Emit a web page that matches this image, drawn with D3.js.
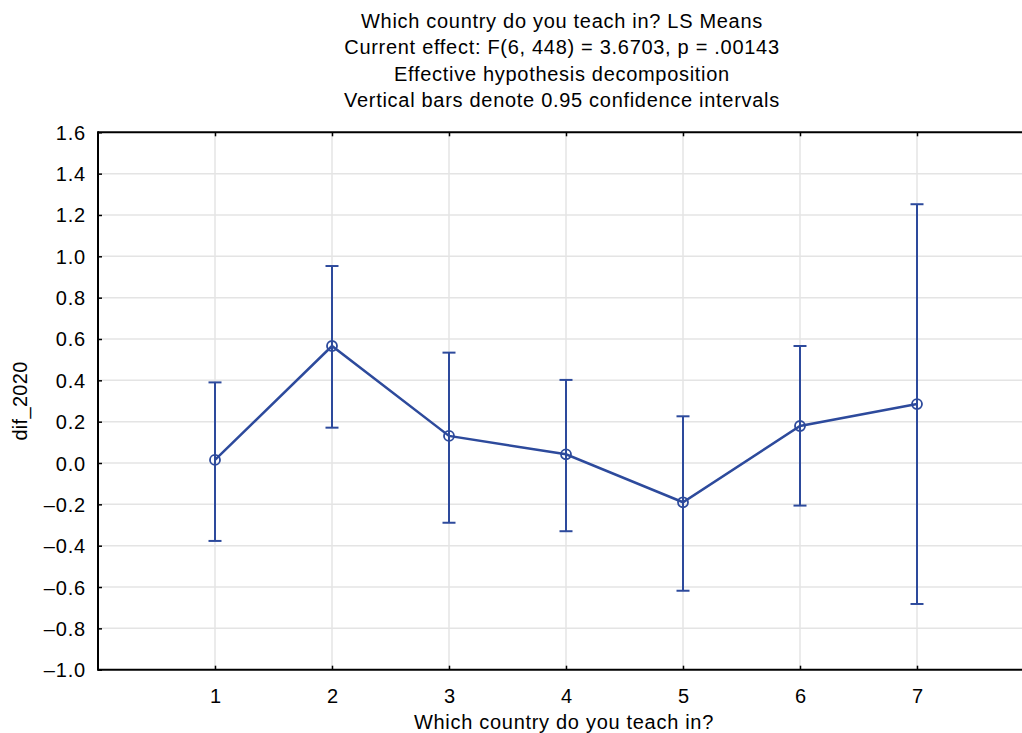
<!DOCTYPE html>
<html>
<head>
<meta charset="utf-8">
<script src="https://cdn.jsdelivr.net/npm/d3@7"></script>
<style>
  body { margin: 0; background: #fff; }
  svg { display: block; font-family: "Liberation Sans", Arial, sans-serif; }
  .tick text { font-family: "Liberation Sans", Arial, sans-serif; font-size: 20px; fill: #000; }
</style>
</head>
<body>
<div id="chart"></div>
<script>
// LS means par pays, avec IC à 95 %
const countries = [1, 2, 3, 4, 5, 6, 7];
const means = [0.015, 0.566, 0.131, 0.042, -0.190, 0.179, 0.285];
const upper = [0.390, 0.953, 0.534, 0.402, 0.226, 0.566, 1.252];
const lower = [-0.377, 0.171, -0.289, -0.330, -0.618, -0.206, -0.682];
const yTicks = [-1.0, -0.8, -0.6, -0.4, -0.2, 0.0, 0.2, 0.4, 0.6, 0.8, 1.0, 1.2, 1.4, 1.6];
const titleLines = [
  "Which country do you teach in? LS Means",
  "Current effect: F(6, 448) = 3.6703, p = .00143",
  "Effective hypothesis decomposition",
  "Vertical bars denote 0.95 confidence intervals"
];

const width = 1022, height = 733;
const plotLeft = 98, plotTop = 132.3, plotBottom = 669.7;
const blue = "#2d4a9c";

const svg = d3.select("#chart")
  .append("svg")
  .attr("width", width)
  .attr("height", height);

const x = d3.scaleLinear().domain([0, 8]).range([plotLeft, 1034]);
const y = d3.scaleLinear().domain([-1.0, 1.6]).range([plotBottom, plotTop]);

const data = countries.map((c, i) => ({ c, m: means[i], hi: upper[i], lo: lower[i] }));

// Grille
svg.append("g")
  .selectAll("line")
  .data(yTicks.slice(1, -1))
  .enter().append("line")
  .attr("x1", plotLeft).attr("x2", width)
  .attr("y1", d => y(d)).attr("y2", d => y(d))
  .attr("stroke", "#e4e4e4").attr("stroke-width", 1.5);

svg.append("g")
  .selectAll("line")
  .data(countries)
  .enter().append("line")
  .attr("x1", d => x(d)).attr("x2", d => x(d))
  .attr("y1", plotTop).attr("y2", plotBottom)
  .attr("stroke", "#e4e4e4").attr("stroke-width", 1.5);

// Axes
const yAxis = svg.append("g")
  .attr("transform", `translate(${plotLeft},0)`)
  .call(d3.axisLeft(y).tickValues(yTicks).tickSize(-4).tickPadding(12)
    .tickFormat(d => d3.format(".1f")(d).replace(/[-\u2212]/, "\u2013")));
yAxis.select(".domain").remove();
yAxis.selectAll("line").attr("stroke", "#000").attr("stroke-width", 1.5);
yAxis.selectAll("text")
  .style("font-size", "20px")
  .style("letter-spacing", "0.8px")
  .attr("dy", "0.35em");

const xAxis = svg.append("g")
  .attr("transform", `translate(0,${plotBottom})`)
  .call(d3.axisBottom(x).tickValues(countries).tickSize(-4).tickPadding(0)
    .tickFormat(d3.format("d")));
xAxis.select(".domain").remove();
xAxis.selectAll("line").attr("stroke", "#000").attr("stroke-width", 1.5);
xAxis.selectAll("text")
  .style("font-size", "20px")
  .attr("y", 33).attr("dy", null);

const topAxis = svg.append("g")
  .attr("transform", `translate(0,${plotTop})`)
  .call(d3.axisTop(x).tickValues(countries).tickSize(-4).tickFormat(""));
topAxis.select(".domain").remove();
topAxis.selectAll("line").attr("stroke", "#000").attr("stroke-width", 1.5);

// Cadre : gauche, bas, haut
svg.append("line").attr("x1", plotLeft).attr("x2", plotLeft).attr("y1", plotTop - 1).attr("y2", plotBottom + 1)
  .attr("stroke", "#000").attr("stroke-width", 2);
svg.append("line").attr("x1", plotLeft).attr("x2", width).attr("y1", plotBottom).attr("y2", plotBottom)
  .attr("stroke", "#000").attr("stroke-width", 2);
svg.append("line").attr("x1", plotLeft).attr("x2", width).attr("y1", plotTop).attr("y2", plotTop)
  .attr("stroke", "#000").attr("stroke-width", 2);

// Barres d'erreur
const err = svg.append("g").attr("stroke", blue).attr("stroke-width", 2);
err.selectAll(".bar").data(data).enter().append("line")
  .attr("x1", d => x(d.c)).attr("x2", d => x(d.c))
  .attr("y1", d => y(d.hi)).attr("y2", d => y(d.lo));
err.selectAll(".capHi").data(data).enter().append("line")
  .attr("x1", d => x(d.c) - 6.5).attr("x2", d => x(d.c) + 6.5)
  .attr("y1", d => y(d.hi)).attr("y2", d => y(d.hi));
err.selectAll(".capLo").data(data).enter().append("line")
  .attr("x1", d => x(d.c) - 6.5).attr("x2", d => x(d.c) + 6.5)
  .attr("y1", d => y(d.lo)).attr("y2", d => y(d.lo));

// Ligne des moyennes
svg.append("path")
  .datum(data)
  .attr("fill", "none")
  .attr("stroke", blue)
  .attr("stroke-width", 2.5)
  .attr("d", d3.line().x(d => x(d.c)).y(d => y(d.m)));

svg.append("g").selectAll("circle")
  .data(data)
  .enter().append("circle")
  .attr("cx", d => x(d.c)).attr("cy", d => y(d.m))
  .attr("r", 5)
  .attr("fill", "none")
  .attr("stroke", blue)
  .attr("stroke-width", 1.8);

// Titres
svg.append("g").selectAll("text")
  .data(titleLines)
  .enter().append("text")
  .attr("x", 562)
  .attr("y", (d, i) => 27.7 + i * 26.5)
  .attr("text-anchor", "middle")
  .style("font-size", "20px")
  .style("letter-spacing", "0.7px")
  .attr("fill", "#000")
  .text(d => d);

svg.append("text")
  .attr("x", 564).attr("y", 729)
  .attr("text-anchor", "middle")
  .style("font-size", "20px")
  .style("letter-spacing", "0.7px")
  .text("Which country do you teach in?");

svg.append("text")
  .attr("transform", `translate(27,401) rotate(-90)`)
  .attr("text-anchor", "middle")
  .style("font-size", "20px")
  .style("letter-spacing", "0.3px")
  .text("dif_2020");
</script>
</body>
</html>
